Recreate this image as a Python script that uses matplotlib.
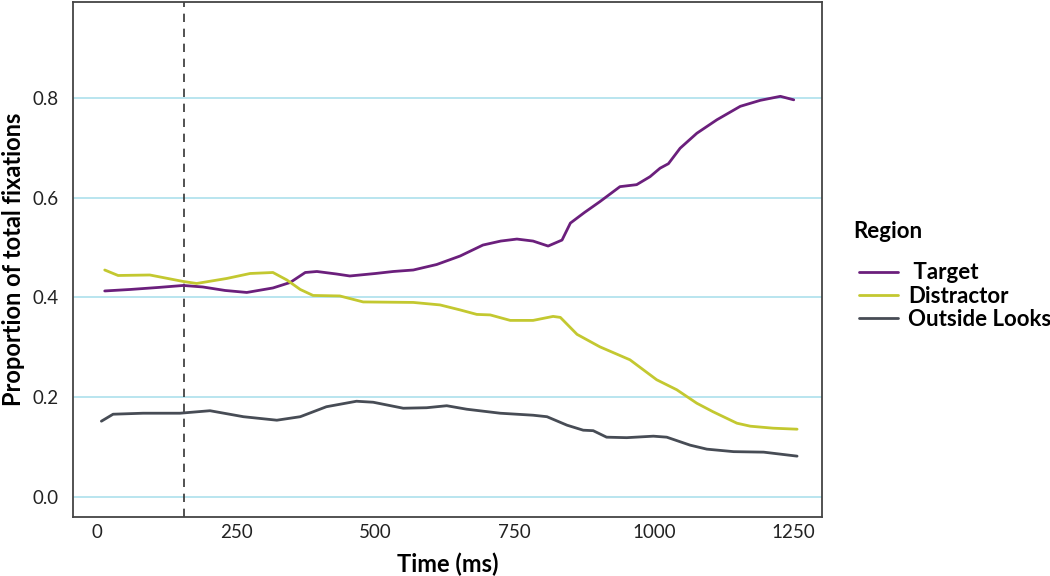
import numpy as np
import matplotlib
matplotlib.use('Agg')
import matplotlib.pyplot as plt

plt.rcParams['font.family'] = ['Lato', 'DejaVu Sans']

# Target region
target_t = [14, 60, 110, 155, 190, 230, 269, 316, 347, 374, 395, 430, 454, 500, 532,
            568, 610, 652, 693, 725, 754, 783, 810, 835, 850, 875, 903, 939, 969, 993,
            1011, 1026, 1047, 1077, 1113, 1155, 1191, 1227, 1251]
target_p = [0.413, 0.416, 0.420, 0.424, 0.421, 0.414, 0.410, 0.419, 0.430, 0.450, 0.452,
            0.447, 0.443, 0.448, 0.452, 0.455, 0.466, 0.483, 0.505, 0.513, 0.517, 0.513,
            0.503, 0.515, 0.549, 0.570, 0.592, 0.622, 0.626, 0.642, 0.659, 0.668, 0.699,
            0.729, 0.756, 0.783, 0.795, 0.803, 0.796]

# Distractor region
distr_t = [14, 38, 95, 155, 179, 233, 275, 316, 341, 365, 388, 436, 478, 568, 616, 652,
           682, 706, 742, 783, 819, 832, 862, 903, 957, 1005, 1041, 1077, 1106, 1149,
           1173, 1214, 1257]
distr_p = [0.455, 0.444, 0.445, 0.432, 0.428, 0.438, 0.448, 0.450, 0.435, 0.416, 0.404,
           0.403, 0.391, 0.390, 0.385, 0.375, 0.366, 0.365, 0.354, 0.354, 0.362, 0.360,
           0.326, 0.301, 0.275, 0.235, 0.215, 0.188, 0.171, 0.148, 0.142, 0.138, 0.136]

# Outside looks
out_t = [8, 29, 83, 149, 203, 263, 323, 365, 412, 466, 496, 550, 592, 628, 664, 724,
         783, 808, 844, 873, 891, 915, 951, 999, 1023, 1065, 1095, 1143, 1197, 1257]
out_p = [0.152, 0.166, 0.168, 0.168, 0.173, 0.161, 0.154, 0.161, 0.181, 0.192, 0.190,
         0.178, 0.179, 0.183, 0.176, 0.168, 0.164, 0.161, 0.144, 0.134, 0.133, 0.120,
         0.119, 0.122, 0.120, 0.104, 0.096, 0.091, 0.090, 0.082]

onset = 156
xticks = [0, 250, 500, 750, 1000, 1250]
yticks = [0.0, 0.2, 0.4, 0.6, 0.8]

fig = plt.figure(figsize=(10.5, 5.76), dpi=100)
ax = fig.add_axes([0.0695, 0.1024, 0.7135, 0.8941])

for y in yticks:
    ax.axhline(y, color='#b3e3ee', lw=1.3, zorder=0)

ax.axvline(onset, color='#333333', lw=1.2, ls=(0, (5, 4)), zorder=1)

kw = dict(lw=2.0, solid_joinstyle='round', solid_capstyle='round')
ax.plot(target_t, target_p, color='#6b1f7c', label=' Target', **kw)
ax.plot(distr_t, distr_p, color='#c3c830', label='Distractor', **kw)
ax.plot(out_t, out_p, color='#474c55', label='Outside Looks', **kw)

ax.set_xlim(-43, 1302)
ax.set_ylim(-0.04, 0.992)
ax.set_xticks(xticks)
ax.set_yticks(yticks)
ax.set_yticklabels(['%.1f' % v for v in yticks])
ax.tick_params(length=0, labelsize=13.5, colors='#222222')
ax.tick_params(axis='x', pad=5)
ax.tick_params(axis='y', pad=10)
for s in ax.spines.values():
    s.set_color('#444444')
    s.set_linewidth(1.3)

ax.set_xlabel('Time (ms)', fontsize=17, fontweight='bold', labelpad=8)
ax.set_ylabel('Proportion of total fixations', fontsize=17, fontweight='bold', labelpad=6)

fig.text(853 / 1050, 1 - 232 / 576, 'Region', fontsize=16, fontweight='bold',
         ha='left', va='center')
leg = ax.legend(loc='center left', bbox_to_anchor=(848 / 1050, 1 - 296 / 576),
                bbox_transform=fig.transFigure, frameon=False, borderpad=0,
                handlelength=1.75, handletextpad=0.45, labelspacing=0.1,
                prop={'size': 16, 'weight': 'bold'})

plt.savefig('out.png', dpi=100)
